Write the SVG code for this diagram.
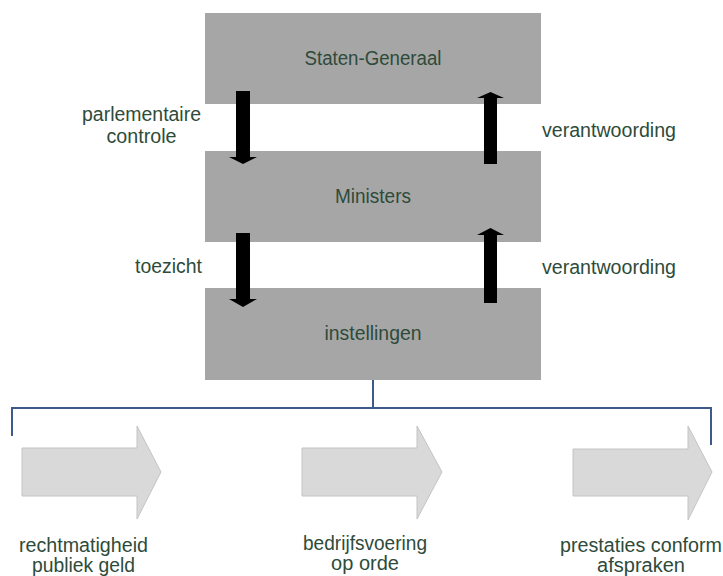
<svg xmlns="http://www.w3.org/2000/svg" width="723" height="576" viewBox="0 0 723 576">
<style>
.box{fill:#a6a6a6}
.t{font-family:"Liberation Sans",Arial,sans-serif;font-size:20px;fill:#2e4b3a}
.m{text-anchor:middle}
.e{text-anchor:end}
.blk{fill:#000}
.bl{fill:none;stroke:#3d5a8a;stroke-width:2}
.ga{fill:#d9d9d9;stroke:#c4c4c4;stroke-width:1}
</style>
<rect width="723" height="576" fill="#fff"/>
<g id="staten-generaal">
<rect class="box" x="205" y="13" width="336" height="91"/>
<text class="t m" x="373" y="65" textLength="137" lengthAdjust="spacingAndGlyphs">Staten-Generaal</text>
</g>
<g id="ministers">
<rect class="box" x="205" y="151" width="336" height="91"/>
<text class="t m" x="373" y="203" textLength="76" lengthAdjust="spacingAndGlyphs">Ministers</text>
</g>
<g id="instellingen">
<rect class="box" x="205" y="288" width="336" height="92"/>
<text class="t m" x="373" y="340" textLength="97" lengthAdjust="spacingAndGlyphs">instellingen</text>
</g>
<g id="connectors">
<polygon class="blk" points="236,91 250,91 250,157 257,157 243,164 229,157 236,157"/>
<polygon class="blk" points="484,164 497,164 497,98 504,98 490.5,92 477,98 484,98"/>
<polygon class="blk" points="236,233 250,233 250,299 257,299 243,307 229,299 236,299"/>
<polygon class="blk" points="484,303 497,303 497,235 504,235 490.5,228 477,235 484,235"/>
<path class="bl" d="M373 380V408M12 436V408H711V445"/>
</g>
<g id="labels">
<text class="t m" x="141.5" y="121" textLength="119" lengthAdjust="spacingAndGlyphs">parlementaire</text>
<text class="t m" x="141.5" y="143" textLength="70" lengthAdjust="spacingAndGlyphs">controle</text>
<text class="t" x="542" y="137" textLength="134" lengthAdjust="spacingAndGlyphs">verantwoording</text>
<text class="t e" x="202" y="273" textLength="67" lengthAdjust="spacingAndGlyphs">toezicht</text>
<text class="t" x="542" y="274" textLength="134" lengthAdjust="spacingAndGlyphs">verantwoording</text>
</g>
<g id="rechtmatigheid">
<polygon class="ga" points="22,448 137,448 137,426 161,472 137,519 137,496 22,496"/>
<text class="t m" x="83.5" y="552" textLength="129" lengthAdjust="spacingAndGlyphs">rechtmatigheid</text>
<text class="t m" x="83.5" y="572" textLength="103" lengthAdjust="spacingAndGlyphs">publiek geld</text>
</g>
<g id="bedrijfsvoering">
<polygon class="ga" points="302,448 417,448 417,426 442,472 417,519 417,496 302,496"/>
<text class="t m" x="365" y="550" textLength="124" lengthAdjust="spacingAndGlyphs">bedrijfsvoering</text>
<text class="t m" x="365" y="570">op orde</text>
</g>
<g id="prestaties">
<polygon class="ga" points="573,449 688,449 688,426 712,472 688,520 688,496 573,496"/>
<text class="t m" x="641" y="552" textLength="162" lengthAdjust="spacingAndGlyphs">prestaties conform</text>
<text class="t m" x="641" y="572">afspraken</text>
</g>
</svg>
